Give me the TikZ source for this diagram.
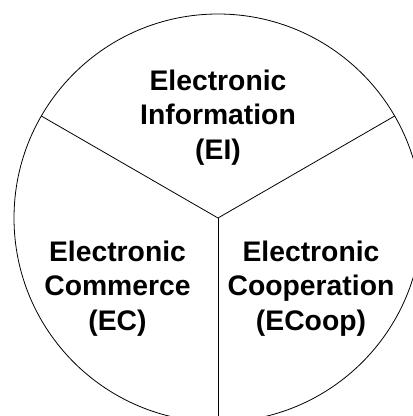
\documentclass[tikz,border=0pt]{standalone}
\usepackage{fontspec}
\setmainfont{Liberation Sans}
\usetikzlibrary{calc}
\begin{document}
\begin{tikzpicture}[x=1pt,y=-1pt,
  sector/.style={draw=black,line width=0.8pt},
  label/.style={align=center,font=\bfseries\fontsize{28.3}{34.5}\selectfont,inner sep=0pt}]
\useasboundingbox (0,0) rectangle (413,416);
\clip (0,0) rectangle (413,416);
% pie outline and the three dividing radii
\coordinate (c) at (218,218);
\draw[sector] (c) circle[radius=204];
\coordinate (ul) at ($(c)+(210:204)$);
\coordinate (ur) at ($(c)+(330:204)$);
\coordinate (bt) at ($(c)+(90:204)$);
\draw[sector] (ul) -- (c) -- (ur);
\draw[sector] (c) -- (bt);
% sector labels
\node[label] (ei) at (218,117.5) {Electronic\\Information\\(EI)};
\node[label] (ec) at (117.5,288.5) {Electronic\\Commerce\\(EC)};
\node[label] (ecoop) at (311,288.5) {Electronic\\Cooperation\\(ECoop)};
\end{tikzpicture}
\end{document}
